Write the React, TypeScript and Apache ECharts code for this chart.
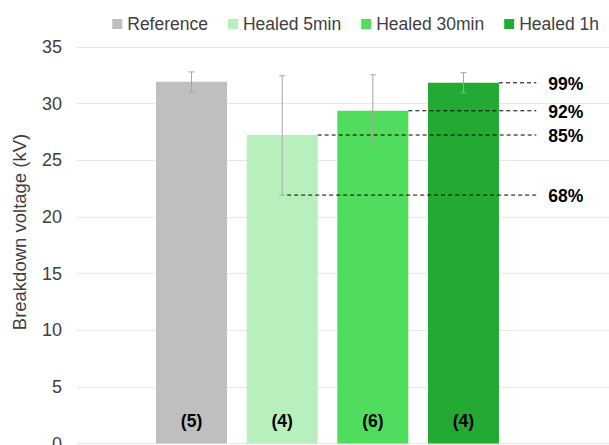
import React, { useEffect, useRef } from "react";
import * as echarts from "echarts";

const categories = ["Reference", "Healed 5min", "Healed 30min", "Healed 1h"];
const means = [31.93, 27.23, 29.37, 31.84];
const errLow = [31.05, 21.93, 26.14, 30.96];
const errHigh = [32.8, 32.46, 32.55, 32.73];
const sampleCounts = ["(5)", "(4)", "(6)", "(4)"];
const colors = ["#bfbfbf", "#b8f0bd", "#50dd5e", "#22aa33"];

const pctLabels = ["99%", "92%", "85%", "68%"];
const pctCategory = [3, 2, 1, 1];
const pctValues = [means[3], means[2], means[1], errLow[1]];
const pctFromBar = [1, 1, 1, 0];

const yTicks = { min: 0, max: 35, interval: 5 };

const FONT = "'Liberation Sans', Arial, sans-serif";
const BAR_W = 71;

export default function App() {
  const ref = useRef<HTMLDivElement>(null);
  useEffect(() => {
    if (!ref.current) return;
    const chart = echarts.init(ref.current, undefined, { renderer: "svg" });

    const barSeries = categories.map((name, i) => ({
      name,
      type: "bar",
      xAxisIndex: 1,
      yAxisIndex: 1,
      barWidth: BAR_W,
      barGap: "-100%",
      itemStyle: { color: colors[i] },
      label: {
        show: true,
        position: "insideBottom",
        distance: 14,
        formatter: () => sampleCounts[i],
        color: "#000",
        fontWeight: "bold",
        fontSize: 17.5,
        fontFamily: FONT,
      },
      data: categories.map((_, j) => (j === i ? means[i] : "-")),
      z: 2,
    }));

    const option: any = {
      animation: false,
      legend: {
        data: categories,
        right: 5,
        top: 10,
        icon: "rect",
        itemWidth: 10,
        itemHeight: 10,
        itemGap: 20,
        textStyle: { color: "#404040", fontSize: 17.5, fontFamily: FONT },
      },
      grid: [
        { left: 77, right: 0, top: 47, bottom: 1.5, outerBoundsMode: "none", containLabel: false },
        { left: 146.2, right: 100.2, top: 47, bottom: 1.5, outerBoundsMode: "none", containLabel: false },
      ],
      xAxis: [
        { type: "value", gridIndex: 0, show: false, min: 0, max: 1 },
        {
          type: "category",
          gridIndex: 1,
          data: categories,
          show: false,
        },
      ],
      yAxis: [
        {
          type: "value",
          gridIndex: 0,
          min: yTicks.min,
          max: yTicks.max,
          interval: yTicks.interval,
          axisLine: { show: false },
          axisTick: { show: false },
          axisLabel: {
            color: "#404040",
            fontSize: 18,
            fontFamily: FONT,
            margin: 15,
          },
          splitLine: { lineStyle: { color: "#e9e9e9", width: 1 } },
        },
        {
          type: "value",
          gridIndex: 1,
          min: yTicks.min,
          max: yTicks.max,
          interval: yTicks.interval,
          show: false,
          splitLine: { show: false },
        },
      ],
      graphic: [
        {
          type: "text",
          x: 19.5,
          y: 232,
          rotation: Math.PI / 2,
          style: {
            text: "Breakdown voltage (kV)",
            fill: "#404040",
            fontSize: 18.5,
            fontFamily: FONT,
            align: "center",
            verticalAlign: "middle",
          },
        },
      ],
      series: [
        ...barSeries,
        {
          type: "custom",
          name: "err",
          xAxisIndex: 1,
          yAxisIndex: 1,
          z: 5,
          silent: true,
          data: categories.map((_, i) => [i, errLow[i], errHigh[i]]),
          renderItem: (params: any, api: any) => {
            const lo = api.coord([api.value(0), api.value(1)]);
            const hi = api.coord([api.value(0), api.value(2)]);
            const st = { stroke: "#a6a6a6", lineWidth: 1 };
            return {
              type: "group",
              children: [
                { type: "line", shape: { x1: lo[0], y1: lo[1], x2: hi[0], y2: hi[1] }, style: st },
                { type: "line", shape: { x1: lo[0] - 3, y1: lo[1], x2: lo[0] + 3, y2: lo[1] }, style: st },
                { type: "line", shape: { x1: hi[0] - 3, y1: hi[1], x2: hi[0] + 3, y2: hi[1] }, style: st },
              ],
            };
          },
        },
        {
          type: "custom",
          name: "pct",
          xAxisIndex: 1,
          yAxisIndex: 1,
          z: 6,
          silent: true,
          clip: false,
          data: pctLabels.map((_, i) => [pctCategory[i], pctValues[i], i]),
          renderItem: (params: any, api: any) => {
            const cat = api.value(0);
            const v = api.value(1);
            const idx = api.value(2);
            const p = api.coord([cat, v]);
            const bw = api.size([1, 0])[0];
            const last = api.coord([categories.length - 1, v]);
            const startX = pctFromBar[idx] ? p[0] + BAR_W / 2 : p[0] + 5;
            const endX = last[0] + bw / 2 + 27.5;
            return {
              type: "group",
              children: [
                {
                  type: "line",
                  shape: { x1: startX, y1: p[1], x2: endX, y2: p[1] },
                  style: { stroke: "#000", lineWidth: 1, lineDash: [4, 3] },
                },
                {
                  type: "text",
                  x: endX + 12,
                  y: p[1] + 1,
                  style: {
                    text: pctLabels[idx],
                    fill: "#000",
                    fontSize: 17.5,
                    fontWeight: "bold",
                    fontFamily: FONT,
                    align: "left",
                    verticalAlign: "middle",
                  },
                },
              ],
            };
          },
        },
      ],
    };
    chart.setOption(option);
    return () => chart.dispose();
  }, []);
  return (
    <div
      ref={ref}
      style={{ position: "fixed", left: 0, top: 0, width: 609, height: 445, background: "#fff" }}
    />
  );
}
